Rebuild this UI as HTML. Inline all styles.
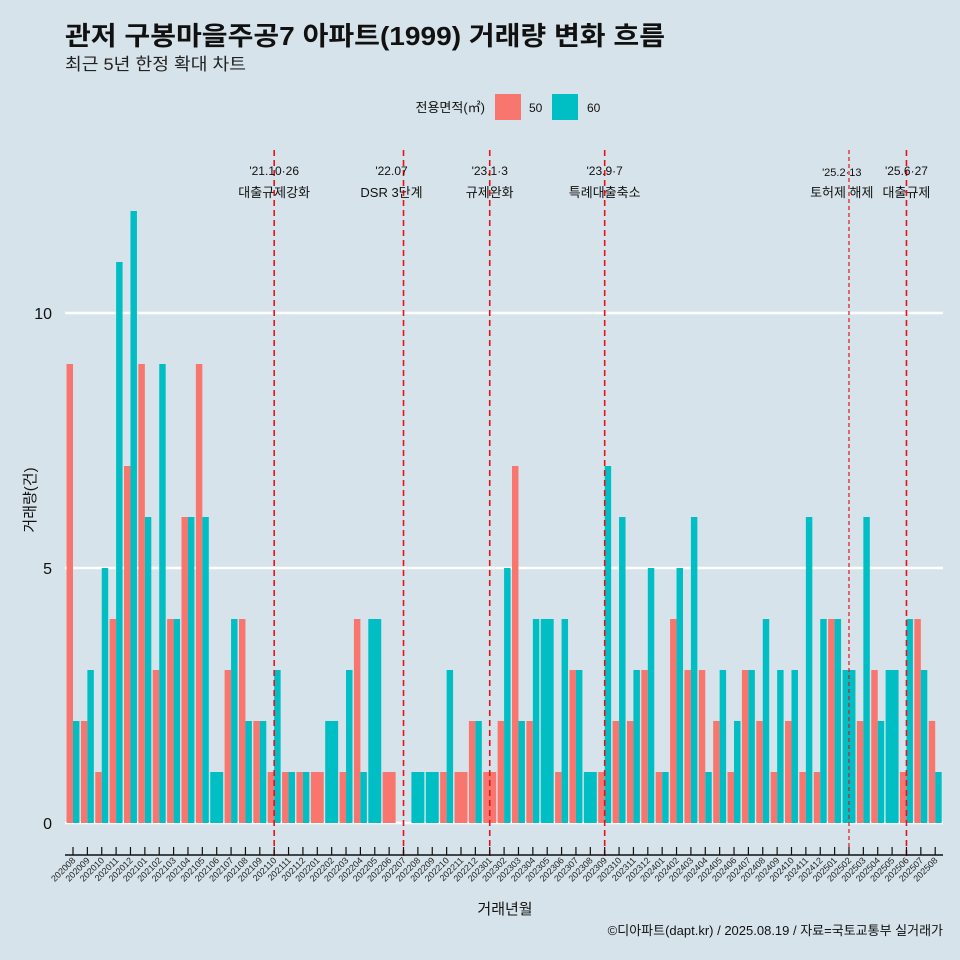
<!DOCTYPE html>
<html><head><meta charset="utf-8"><style>
body{margin:0;background:#d6e3ea;}
svg{display:block;font-family:"Liberation Sans","Noto Sans CJK KR",sans-serif;}
</style></head><body>
<svg id="chart" width="960" height="960" viewBox="0 0 960 960">
<rect x="0" y="0" width="960" height="960" fill="#d6e3ea"/>
<text x="65" y="45" font-size="26" font-weight="bold" fill="#111" textLength="600" lengthAdjust="spacingAndGlyphs">관저 구봉마을주공7 아파트(1999) 거래량 변화 흐름</text>
<text x="65" y="70" font-size="17" fill="#222" textLength="181" lengthAdjust="spacingAndGlyphs">최근 5년 한정 확대 차트</text>
<g>
<text x="485" y="112" font-size="13" text-anchor="end" fill="#111">전용면적(㎡)</text>
<rect x="495" y="94" width="26" height="26" fill="#f8766d"/>
<text x="529" y="112" font-size="12" fill="#111">50</text>
<rect x="552" y="94" width="26" height="26" fill="#00bfc4"/>
<text x="587" y="112" font-size="12" fill="#111">60</text>
</g>
<g id="grid"></g>
<g id="bars"></g>
<g id="events"></g>
<g id="axes"></g>
<text x="505" y="914" font-size="15" text-anchor="middle" fill="#111">거래년월</text>
<text transform="translate(35,500) rotate(-90)" font-size="15" text-anchor="middle" fill="#111">거래량(건)</text>
<text x="943" y="935" font-size="13" text-anchor="end" fill="#111">©디아파트(dapt.kr) / 2025.08.19 / 자료=국토교통부 실거래가</text>
</svg>
<script>
const months = ["202008","202009","202010","202011","202012","202101","202102","202103","202104","202105","202106","202107","202108","202109","202110","202111","202112","202201","202202","202203","202204","202205","202206","202207","202208","202209","202210","202211","202212","202301","202302","202303","202304","202305","202306","202307","202308","202309","202310","202311","202312","202401","202402","202403","202404","202405","202406","202407","202408","202409","202410","202411","202412","202501","202502","202503","202504","202505","202506","202507","202508"];
const area50 = [9,2,1,4,7,9,3,4,6,9,0,3,4,2,1,1,1,1,0,1,4,0,1,0,0,0,1,1,2,1,2,7,2,0,1,3,0,1,2,2,3,1,4,3,3,2,1,3,2,1,2,1,1,4,0,2,3,0,1,4,2];
const area60 = [2,3,5,11,12,6,9,4,6,6,1,4,2,2,3,1,1,0,2,3,1,4,0,0,1,1,3,0,2,0,5,2,4,4,4,3,1,7,6,3,5,1,5,6,1,3,2,3,4,3,3,6,4,4,3,6,2,3,4,3,1];
const yTicks = [0,5,10];
const eventMonths = ["202110","202207","202301","202309","202502","202506"];
const eventDates = ["'21.10·26","'22.07","'23.1·3","'23.9·7","'25.2·13","'25.6·27"];
const eventTexts = ["대출규제강화","DSR 3단계","규제완화","특례대출축소","토허제 해제","대출규제"];
const eventOffsets = [0,0.5,0,0,0.3,0];

const NS="http://www.w3.org/2000/svg";
const x0=73, step=14.37, yBase=823, unit=51;
const xPos = i => x0 + step*i;
const yPos = v => yBase - unit*v;
function mk(tag, parent, attrs){const e=document.createElementNS(NS,tag);for(const k in attrs)e.setAttribute(k,attrs[k]);parent.appendChild(e);return e;}
const grid=document.getElementById('grid'), bars=document.getElementById('bars'), ev=document.getElementById('events'), axes=document.getElementById('axes');
yTicks.forEach(t=>{
  const l=mk('line',grid,{x1:65,x2:943,y1:yPos(t),y2:yPos(t),stroke:'#fff','stroke-width':2.5});
  
  
  const tx=mk('text',axes,{x:52,y:yPos(t)+6,'font-size':16,'text-anchor':'end',fill:'#111'});
  tx.textContent=t;
  
  
});
const bw=step*0.9;
months.forEach((m,i)=>{
  const a=area50[i], b=area60[i], cx=xPos(i);
  if(a>0&&b>0){
    const r=mk('rect',bars,{x:cx-bw/2,y:yPos(a),width:bw/2,height:unit*a,fill:'#f8766d'});
    
    
    const t=mk('rect',bars,{x:cx,y:yPos(b),width:bw/2,height:unit*b,fill:'#00bfc4'});
    
    
  } else if(a>0){
    const r=mk('rect',bars,{x:cx-bw/2,y:yPos(a),width:bw,height:unit*a,fill:'#f8766d'});
    
    
  } else if(b>0){
    const t=mk('rect',bars,{x:cx-bw/2,y:yPos(b),width:bw,height:unit*b,fill:'#00bfc4'});
    
    
  }
  const tk=mk('line',axes,{x1:cx,x2:cx,y1:847,y2:855,stroke:'#111','stroke-width':1.2});
  
  
  const lb=mk('text',axes,{transform:`translate(${cx+3},861) rotate(-45)`,'font-size':9,'text-anchor':'end',fill:'#222'});
  lb.textContent=m;
  
  
});
const ax=mk('line',axes,{x1:65,x2:943,y1:855,y2:855,stroke:'#111','stroke-width':1.5});


eventMonths.forEach((m,k)=>{
  const i=months.indexOf(m), cx=xPos(i);
  const dotted = m==="202502";
  const l=mk('line',ev,{x1:cx,x2:cx,y1:150,y2:857,stroke:'#e8101a','stroke-width':dotted?1.2:1.6,'stroke-dasharray':dotted?'4,3':'6,4'});
  
  
  const d=mk('text',ev,{x:cx-12*eventOffsets[k]*2,y:dotted?176:175,'font-size':dotted?11:12,'text-anchor':'middle',fill:'#111'});
  d.textContent=eventDates[k];
  
  
  const t=mk('text',ev,{x:cx-12*eventOffsets[k]*2,y:197,'font-size':13,'text-anchor':'middle',fill:'#111'});
  t.textContent=eventTexts[k];
  
  
});
</script>
</body></html>
